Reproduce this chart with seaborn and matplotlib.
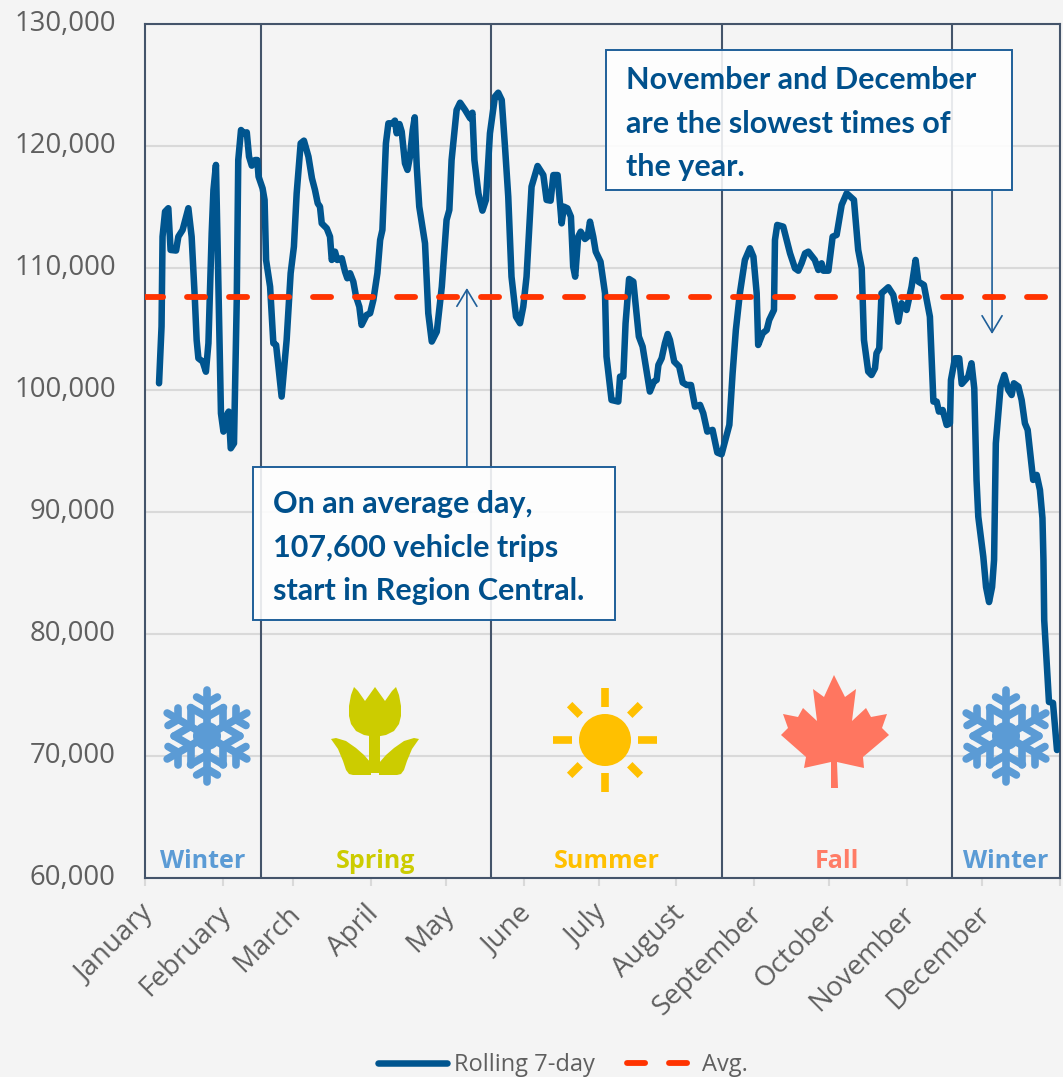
import matplotlib
matplotlib.use("Agg")
import matplotlib.pyplot as plt
import numpy as np
import pandas as pd
import seaborn as sns
from matplotlib.patches import Circle, Polygon, Rectangle
from matplotlib.transforms import ScaledTranslation

# rolling 7-day trips as (day of year, trips)
trip_days = [
    5.6, 6.6, 7.0, 8.0, 9.3, 10.2, 12.4, 13.3, 15.0, 17.3, 18.6, 19.9, 20.6, 21.3, 23.0, 24.3,
    25.3, 26.6, 27.3, 28.3, 29.0, 29.9, 30.3, 31.3, 32.3, 33.4, 34.2, 35.5, 36.6, 37.2, 38.3, 39.5,
    40.6, 41.5, 42.6, 43.9, 44.8, 45.3, 46.9, 47.7, 48.3, 49.9, 51.2, 52.3, 54.5, 56.5, 58.1, 59.4,
    60.5, 62.1, 63.4, 65.2, 66.6, 67.8, 68.9, 69.8, 70.5, 72.5, 73.8, 74.5, 75.8, 76.7, 78.5, 79.8,
    80.7, 81.8, 83.1, 84.2, 85.5, 86.4, 88.4, 89.8, 91.1, 92.7, 93.8, 94.7, 96.1, 97.1, 98.7, 99.7,
    100.4, 101.5, 102.4, 103.7, 104.7, 105.7, 106.8, 107.6, 108.4, 109.4, 111.7, 113.0, 114.4, 116.4, 118.4, 120.3,
    121.4, 122.3, 124.3, 125.7, 127.7, 129.7, 130.6, 131.4, 133.0, 134.6, 136.0, 137.6, 139.6, 140.9, 142.3, 143.6,
    144.9, 146.2, 148.0, 149.6, 150.9, 152.2, 153.6, 154.2, 156.6, 158.9, 160.2, 161.8, 162.9, 164.6, 166.2, 167.1,
    168.5, 169.9, 170.8, 171.6, 172.8, 173.8, 175.5, 176.6, 177.5, 178.8, 179.8, 181.7, 183.5, 184.1, 186.1, 188.8,
    189.5, 190.8, 191.7, 193.1, 194.8, 197.0, 198.5, 201.4, 203.0, 204.1, 204.8, 206.1, 207.4, 208.5, 209.4, 211.1,
    213.1, 214.5, 216.1, 217.8, 219.4, 221.4, 222.7, 224.3, 226.4, 228.3, 230.0, 233.1, 234.4, 235.7, 237.3, 239.3,
    241.3, 242.7, 244.0, 244.6, 246.4, 248.0, 249.0, 250.9, 251.3, 252.2, 254.6, 257.3, 259.3, 260.6, 261.9, 263.3,
    264.6, 267.2, 268.6, 269.9, 270.6, 272.6, 274.3, 275.9, 277.9, 279.9, 282.8, 284.5, 285.9, 286.8, 288.5, 289.8,
    291.2, 291.8, 292.9, 293.8, 296.5, 298.5, 300.5, 301.8, 303.8, 305.8, 307.4, 308.5, 310.7, 313.1, 314.5, 315.8,
    316.7, 318.2, 319.8, 321.1, 321.5, 323.1, 324.8, 325.8, 328.4, 329.7, 330.8, 331.7, 332.4, 334.4, 335.5, 336.7,
    337.9, 338.7, 339.4, 341.3, 342.8, 344.4, 345.7, 346.6, 348.4, 349.7, 351.0, 352.1, 354.3, 355.7, 357.0, 358.0,
    358.4, 358.7, 359.8, 360.6, 362.2, 363.8, 365.0,
]
trip_values = [
    100550, 105200, 112570, 114620, 114900, 111480, 111430, 112570, 113120, 114900, 112570, 107380, 104100, 102600, 102330, 101500,
    103830, 112850, 116400, 118450, 111480, 101920, 98090, 96590, 97820, 98230, 95220, 95630, 107380, 118850, 121310, 121040,
    121120, 119130, 118390, 118850, 118850, 117490, 116530, 115580, 110660, 108470, 103830, 103690, 99460, 104100, 109570, 111750,
    116120, 120220, 120440, 119130, 117350, 116400, 115300, 115030, 113660, 113250, 112570, 110660, 111340, 110660, 110800, 109700,
    109160, 109570, 108880, 107650, 106830, 105330, 106150, 106290, 107380, 109570, 112300, 113120, 120220, 121860, 121860, 122080,
    121040, 121800, 121180, 118580, 118040, 119130, 121310, 122350, 118310, 115030, 112020, 106290, 103970, 104780, 108470, 113940,
    114760, 118850, 122950, 123550, 122950, 122270, 122730, 118850, 116120, 114700, 115580, 121040, 124050, 124370, 123770, 119950,
    115850, 109290, 106010, 105470, 106830, 109290, 114480, 116670, 118360, 117620, 115580, 115520, 117620, 117620, 113660, 115030,
    114890, 114210, 110110, 109290, 112570, 112980, 112380, 112570, 113800, 112570, 111340, 110520, 107930, 102740, 99180, 99050,
    101100, 101100, 105470, 109100, 108880, 104380, 103560, 99870, 100690, 100820, 102050, 102600, 103830, 104590, 104100, 102330,
    101920, 100610, 100410, 100410, 98640, 98780, 98090, 96590, 96730, 94870, 94730, 97140, 101370, 104920, 107930, 110660,
    111620, 110930, 107930, 103690, 104650, 104920, 105740, 106560, 112300, 113530, 113390, 111210, 109970, 109780, 110385, 111200,
    111340, 110660, 109840, 110385, 109780, 109780, 112570, 112710, 115170, 116120, 115580, 111480, 109975, 104100, 101510, 101230,
    101780, 103010, 103420, 107930, 108420, 107790, 105600, 107110, 106560, 108470, 110660, 108880, 108610, 106010, 99050, 99050,
    98230, 98360, 97135, 97270, 100820, 102600, 102600, 100500, 101100, 102190, 100140, 92630, 89620, 86340, 83850, 82620,
    83850, 86070, 95630, 100280, 101230, 100000, 99590, 100550, 100280, 99180, 97270, 96730, 92630, 93040, 91810, 89500,
    86070, 81150, 77300, 74430, 74350, 70490, 71000,
]

average_trips = 107600

month_starts = [0, 31, 59, 90, 120, 151, 181, 212, 243, 273, 304, 334, 365]
month_names = ["January", "February", "March", "April", "May", "June", "July", "August",
               "September", "October", "November", "December", ""]

y_ticks = [60000, 70000, 80000, 90000, 100000, 110000, 120000, 130000]

season_edges = [0, 46.1, 138.0, 230.2, 321.9, 365]
season_names = ["Winter", "Spring", "Summer", "Fall", "Winter"]
season_colors = ["#5B9BD5", "#CCCC00", "#FFC000", "#FF7C66", "#5B9BD5"]

BG = "#F4F4F4"
BLUE = "#00558F"
RED = "#FF3300"
FRAME = "#44546A"
GRID = "#D9D9D9"
TEXT = "#5F5F5F"
NOTE = "#1F5F99"
FONT = "Open Sans"

sns.set_theme(style="whitegrid")
plt.rcParams["font.family"] = [FONT, "DejaVu Sans"]

W, H = 1063, 1077
fig = plt.figure(figsize=(W / 100, H / 100), dpi=100, facecolor=BG)
ax = fig.add_axes([145 / W, 1 - 878 / H, 915 / W, 854 / H], facecolor=BG)

trips = pd.DataFrame({"day": trip_days, "trips": trip_values, "series": "Rolling 7-day"})
avg = pd.DataFrame({"day": [month_starts[0], month_starts[-1]], "trips": average_trips, "series": "Avg."})

for edge in season_edges[1:-1]:
    ax.axvline(edge, color=FRAME, lw=1.5, zorder=1.5)

sns.lineplot(data=trips, x="day", y="trips", color=BLUE, linewidth=4.7, ax=ax, label="Rolling 7-day",
             solid_capstyle="round", solid_joinstyle="round", errorbar=None, estimator=None, sort=False, zorder=3)
sns.lineplot(data=avg, x="day", y="trips", color=RED, linewidth=4.2, ax=ax, label="Avg.",
             errorbar=None, estimator=None, zorder=4)
ax.lines[-1].set_linestyle((0, (3.1, 4.1)))
ax.lines[-1].set_dash_capstyle("round")

ax.set_xlim(0, 365)
ax.set_ylim(60000, 130000)
ax.set_xlabel("")
ax.set_ylabel("")
ax.set_yticks(y_ticks)
ax.set_yticklabels([f"{v:,}" for v in y_ticks], fontsize=19.8, color=TEXT)
ax.set_xticks(month_starts)
ax.set_xticklabels(month_names, fontsize=20, color=TEXT, rotation=45, ha="right", rotation_mode="anchor")
ax.tick_params(axis="x", length=6, width=1.5, color=GRID, pad=10, bottom=True)
ax.tick_params(axis="y", length=0, pad=21)
ax.grid(False, axis="x")
ax.grid(True, axis="y", color=GRID, lw=1.5)
ax.set_axisbelow(True)
for spine in ax.spines.values():
    spine.set_color(FRAME)
    spine.set_linewidth(1.5)

# tick labels are nudged a few pixels to sit where the reference has them
y_nudge = ScaledTranslation(0, 3.5 / 100, fig.dpi_scale_trans)
for label in ax.get_yticklabels():
    label.set_transform(label.get_transform() + y_nudge)
x_nudge = ScaledTranslation(-6 / 100, 0, fig.dpi_scale_trans)
for label in ax.get_xticklabels():
    label.set_transform(label.get_transform() + x_nudge)

# season names sit in the middle of each season band
for i, name in enumerate(season_names):
    mid = (season_edges[i] + season_edges[i + 1]) / 2
    ax.text(mid, 61350, name, color=season_colors[i], fontsize=18, fontweight="bold", ha="center", va="center")

ax.annotate("", xy=(128.4, 108360), xytext=(128.4, 93690),
            arrowprops=dict(arrowstyle="->,head_length=1.2,head_width=0.72", color=NOTE, lw=1.2,
                            mutation_scale=10, shrinkA=0, shrinkB=0))
ax.annotate("", xy=(337.9, 104590), xytext=(337.9, 116400),
            arrowprops=dict(arrowstyle="->,head_length=1.2,head_width=0.72", color=NOTE, lw=1.2,
                            mutation_scale=10, shrinkA=0, shrinkB=0))

leg = ax.legend(loc="center", bbox_to_anchor=(0.457, (878 - 1065) / 854), ncol=2, frameon=False, fontsize=17,
                handlelength=2.9, handletextpad=0.3, columnspacing=1.35, labelcolor=TEXT, borderpad=0)

# overlay in reference pixels for call-outs and icons
over = fig.add_axes([0, 0, 1, 1])
over.set_xlim(0, W)
over.set_ylim(H, 0)
over.axis("off")
over.patch.set_alpha(0)


def call_out(x0, y0, x1, y1, lines, text_x, first_y):
    over.add_patch(Rectangle((x0, y0), x1 - x0, y1 - y0, facecolor="white", alpha=0.88, edgecolor="none"))
    over.add_patch(Rectangle((x0, y0), x1 - x0, y1 - y0, facecolor="none", edgecolor=NOTE, lw=1.4))
    for i, line in enumerate(lines):
        over.text(text_x, first_y + i * 43.7, line, color="#00508C", fontsize=22, fontweight="bold",
                  family=["Lato", "DejaVu Sans"], va="center", ha="left")


call_out(606, 50, 1012, 190, ["November and December", "are the slowest times of", "the year."], 626, 80)
call_out(253, 467, 615, 620, ["On an average day,", "107,600 vehicle trips", "start in Region Central."], 273, 504)


def snowflake(cx, cy, color):
    r = 46
    for a in np.deg2rad(np.arange(0, 360, 60) + 90):
        ux, uy = np.cos(a), np.sin(a)
        over.plot([cx, cx + r * ux], [cy, cy + r * uy], color=color, lw=5.5, solid_capstyle="round")
        for dist, blen in [(19, 19), (33, 12)]:
            bx, by = cx + dist * ux, cy + dist * uy
            for turn in (-np.pi / 3, np.pi / 3):
                over.plot([bx, bx + blen * np.cos(a + turn)], [by, by + blen * np.sin(a + turn)],
                          color=color, lw=5.5, solid_capstyle="round")
    over.add_patch(Circle((cx, cy), 14, color=color, lw=0))


def tulip(color):
    flower = [(354, 687), (358, 691), (365, 701), (370, 694), (375, 687), (380, 694), (385, 701), (392, 691),
              (396, 687), (399, 695), (401, 706), (401, 716), (399, 724), (394, 731), (386, 735), (375, 737),
              (364, 735), (356, 731), (351, 724), (349, 716), (349, 706), (351, 695)]
    left_leaf = [(331, 739), (336, 738), (346, 741), (356, 748), (364, 755), (371, 763), (371, 775), (353, 775),
                 (349, 774), (346, 770), (343, 761), (338, 749)]
    right_leaf = [(750 - x, y) for x, y in left_leaf]
    over.add_patch(Polygon(flower, closed=True, color=color, lw=0))
    over.add_patch(Polygon(left_leaf, closed=True, color=color, lw=0))
    over.add_patch(Polygon(right_leaf, closed=True, color=color, lw=0))
    over.add_patch(Rectangle((369, 735), 11, 38, color=color, lw=0))


def sun(cx, cy, color):
    over.add_patch(Circle((cx, cy), 26, color=color, lw=0))
    for deg in range(0, 360, 45):
        a = np.deg2rad(deg)
        inner, outer = (33, 52) if deg % 90 == 0 else (35, 50)
        over.plot([cx + inner * np.cos(a), cx + outer * np.cos(a)], [cy + inner * np.sin(a), cy + outer * np.sin(a)],
                  color=color, lw=5.5, solid_capstyle="butt")


def maple_leaf(color):
    leaf = [(834, 675), (845, 697), (856, 689), (852, 721), (866, 708), (871, 717), (887, 714), (882, 728),
            (889, 735), (863, 757), (864, 768), (837, 762), (838, 788), (831, 788), (831, 762), (804, 768),
            (806, 757), (781, 735), (788, 728), (783, 714), (798, 717), (803, 708), (817, 721), (813, 689),
            (824, 697)]
    over.add_patch(Polygon(leaf, closed=True, color=color, lw=0))


snowflake(207, 736, "#5B9BD5")
tulip("#CCCC00")
sun(605, 740, "#FFC000")
maple_leaf("#FF7660")
snowflake(1006, 736, "#5B9BD5")

fig.savefig("out.png", dpi=100, facecolor=BG)
